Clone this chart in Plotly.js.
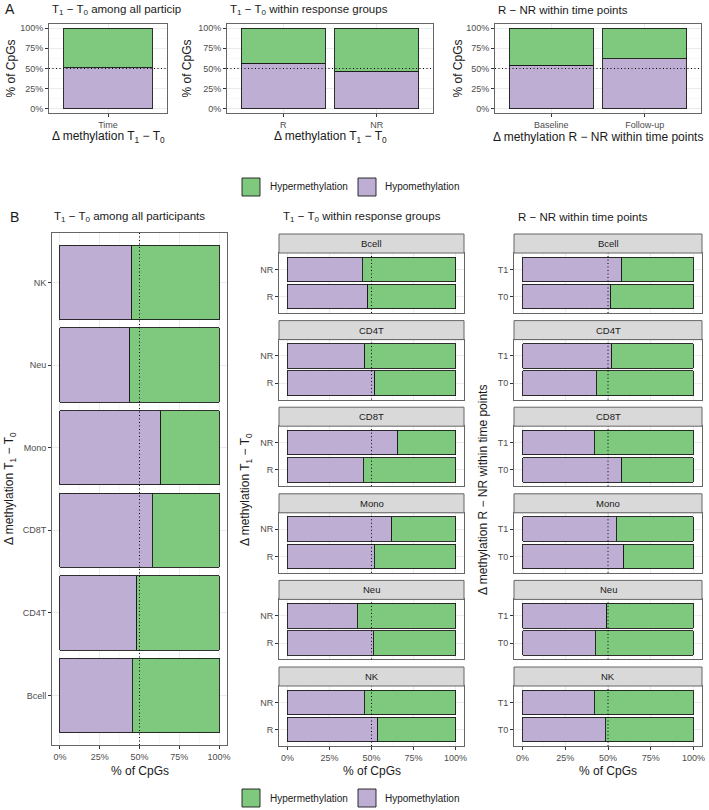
<!DOCTYPE html>
<html>
<head>
<meta charset="utf-8">
<script src="https://cdn.plot.ly/plotly-3.0.1.min.js"></script>
<style>html,body{margin:0;padding:0;background:#fff;}#chart{width:709px;height:810px;}</style>
</head>
<body>
<div id="chart"></div>
<script>
// ---------- DATA (percent of CpGs) ----------
const seriesNames = ['Hypermethylation', 'Hypomethylation'];

// Panel A
const aAllCats = ['Time'];
const aAllHypo = [51];
const aAllHyper = [49];

const aRespCats = ['R', 'NR'];
const aRespHypo = [56.5, 46.5];
const aRespHyper = [43.5, 53.5];

const aTimeCats = ['Baseline', 'Follow-up'];
const aTimeHypo = [54, 62];
const aTimeHyper = [46, 38];

// Panel B
const cellTypes = ['Bcell', 'CD4T', 'CD8T', 'Mono', 'Neu', 'NK'];
const bAllHypo = [45.5, 48.3, 58, 63.5, 44, 45];
const bAllHyper = [54.5, 51.7, 42, 36.5, 56, 55];

const respGroups = ['R', 'NR'];
const bRespHypoR = [47.9, 52, 45, 51.5, 50.9, 53.8];
const bRespHyperR = [52.1, 48, 55, 48.5, 49.1, 46.2];
const bRespHypoNR = [44.4, 46, 65.7, 62.1, 41.4, 45.6];
const bRespHyperNR = [55.6, 54, 34.3, 37.9, 58.6, 54.4];

const timePoints = ['T0', 'T1'];
const bTimeHypoT0 = [51.7, 43, 58, 59.3, 42.4, 48.3];
const bTimeHyperT0 = [48.3, 57, 42, 40.7, 57.6, 51.7];
const bTimeHypoT1 = [58, 52.3, 41.9, 54.7, 49.4, 41.9];
const bTimeHyperT1 = [42, 47.7, 58.1, 45.3, 50.6, 58.1];

const pctTicks = [0, 25, 50, 75, 100];
const pctLabels = ['0%', '25%', '50%', '75%', '100%'];

// ---------- STYLE ----------
const W = 709, H = 810;
const fx = p => p / W;
const fy = p => 1 - p / H;
const GREEN = '#7FC97F', PURPLE = '#BEAED4';
const FONT = 'Liberation Sans, Arial, sans-serif';
const TXT = '#1a1a1a';
const DOT = {color: '#000', width: 1, dash: '1px,2.5px'};

const base = {
  showline: true, mirror: true, linecolor: '#666', linewidth: 1,
  ticks: 'outside', ticklen: 3, tickcolor: '#333', tickwidth: 1,
  tickfont: {size: 9, color: '#4D4D4D', family: FONT},
  zeroline: false, showgrid: true, gridcolor: '#EBEBEB', gridwidth: 1,
  fixedrange: true, automargin: false
};
function pctAxis(domain, anchor, showLabels) {
  return Object.assign({}, base, {
    domain, anchor, range: [-5, 105], tickvals: pctTicks,
    ticktext: pctLabels, showticklabels: showLabels,
    ticks: showLabels ? 'outside' : '',
    minor: {tickvals: [12.5, 37.5, 62.5, 87.5], showgrid: true, gridcolor: '#F3F3F3', gridwidth: 0.6, ticks: ''}
  });
}
function catAxis(domain, anchor, cats) {
  return Object.assign({}, base, {
    domain, anchor, type: 'category', categoryorder: 'array',
    categoryarray: cats, range: [-0.6, cats.length - 0.4]
  });
}

const traces = [];
const layout = {
  width: W, height: H, margin: {l: 0, r: 0, t: 0, b: 0},
  paper_bgcolor: '#fff', plot_bgcolor: '#fff',
  barmode: 'stack', showlegend: false, bargap: 0,
  font: {family: FONT, color: TXT},
  shapes: [], annotations: []
};

function barPair(ax, cats, hypo, hyper, horiz) {
  const xs = ax === 1 ? 'x' : 'x' + ax, ys = ax === 1 ? 'y' : 'y' + ax;
  [[hypo, PURPLE, seriesNames[1]], [hyper, GREEN, seriesNames[0]]].forEach(([vals, col, nm]) => {
    traces.push({
      type: 'bar', name: nm, orientation: horiz ? 'h' : 'v',
      x: horiz ? vals : cats, y: horiz ? cats : vals,
      xaxis: xs, yaxis: ys, width: 0.9,
      marker: {color: col, line: {color: '#1a1a1a', width: 0.9}},
      hoverinfo: 'skip', showlegend: false
    });
  });
}
function key(n, s) { return n === 1 ? s + 'axis' : s + 'axis' + n; }
function ref(n, s) { return n === 1 ? s : s + n; }

function ann(text, x, y, opts) {
  layout.annotations.push(Object.assign({
    text, x: fx(x), y: fy(y), xref: 'paper', yref: 'paper', showarrow: false,
    xanchor: 'left', yanchor: 'middle', font: {size: 12, color: TXT, family: FONT}
  }, opts || {}));
}

// ---------- PANEL A ----------
const aPanels = [
  {n: 1, x0: 49, x1: 167, cats: aAllCats, hypo: aAllHypo, hyper: aAllHyper,
   title: 'T<sub>1</sub> − T<sub>0</sub> among all particip', xt: 'Δ methylation T<sub>1</sub> − T<sub>0</sub>', yx: 10},
  {n: 2, x0: 227, x1: 433, cats: aRespCats, hypo: aRespHypo, hyper: aRespHyper,
   title: 'T<sub>1</sub> − T<sub>0</sub> within response groups', xt: 'Δ methylation T<sub>1</sub> − T<sub>0</sub>', yx: 186},
  {n: 3, x0: 495, x1: 701, cats: aTimeCats, hypo: aTimeHypo, hyper: aTimeHyper,
   title: 'R − NR within time points', xt: 'Δ methylation R − NR within time points', yx: 457}
];
const aTop = 24, aBot = 113;
aPanels.forEach(p => {
  layout[key(p.n, 'x')] = catAxis([fx(p.x0), fx(p.x1)], ref(p.n, 'y'), p.cats);
  layout[key(p.n, 'y')] = pctAxis([fy(aBot), fy(aTop)], ref(p.n, 'x'), true);
  barPair(p.n, p.cats, p.hypo, p.hyper, false);
  layout.shapes.push({type: 'line', xref: ref(p.n, 'x') + ' domain', yref: ref(p.n, 'y'),
    x0: 0, x1: 1, y0: 50, y1: 50, line: DOT});
  ann(p.title, p.x0 + 1, 10, {font: {size: 11.5, family: FONT, color: TXT}});
  ann(p.xt, (p.x0 + p.x1) / 2, 137, {xanchor: 'center', font: {size: 12, family: FONT, color: TXT}});
  ann('% of CpGs', p.yx, (aTop + aBot) / 2, {xanchor: 'center', textangle: -90, font: {size: 12, family: FONT, color: TXT}});
});
ann('A', 3, 9, {font: {size: 14, family: FONT, color: TXT}});

// ---------- LEGENDS ----------
function legend(yc) {
  const items = [[GREEN, seriesNames[0], 242, 268], [PURPLE, seriesNames[1], 358, 383]];
  items.forEach(([col, nm, bx, tx]) => {
    layout.shapes.push({type: 'rect', xref: 'paper', yref: 'paper',
      x0: fx(bx), x1: fx(bx + 18), y0: fy(yc + 9), y1: fy(yc - 9),
      fillcolor: col, line: {color: '#1a1a1a', width: 0.9}});
    ann(nm, tx, yc, {font: {size: 10, family: FONT, color: TXT}});
  });
}
legend(187);
legend(798);

// ---------- PANEL B ----------
ann('B', 8, 217, {font: {size: 14, family: FONT, color: TXT}});
const bTop = 233, bBot = 745;
// B1
layout.xaxis4 = pctAxis([fx(52), fx(227)], 'y4', true);
layout.yaxis4 = catAxis([fy(bBot), fy(bTop)], 'x4', cellTypes);
barPair(4, cellTypes, bAllHypo, bAllHyper, true);
layout.shapes.push({type: 'line', xref: 'x4', yref: 'y4 domain', x0: 50, x1: 50, y0: 0, y1: 1, line: DOT});
ann('T<sub>1</sub> − T<sub>0</sub> among all participants', 52, 217, {font: {size: 11.5, family: FONT, color: TXT}});
ann('% of CpGs', 139.5, 771, {xanchor: 'center'});
ann('Δ methylation T<sub>1</sub> − T<sub>0</sub>', 10, 489, {xanchor: 'center', textangle: -90});

// Facets
const stripTops = [234, 320.6, 407.2, 493.8, 580.4, 667];
const facetCols = [
  {start: 5, x0: 279, x1: 464, cats: respGroups,
   lo: [bRespHypoR, bRespHyperR], hi: [bRespHypoNR, bRespHyperNR],
   title: 'T<sub>1</sub> − T<sub>0</sub> within response groups', yt: 'Δ methylation T<sub>1</sub> − T<sub>0</sub>', ytx: 246},
  {start: 11, x0: 514, x1: 702, cats: timePoints,
   lo: [bTimeHypoT0, bTimeHyperT0], hi: [bTimeHypoT1, bTimeHyperT1],
   title: 'R − NR within time points', yt: 'Δ methylation R − NR within time points', ytx: 483}
];
facetCols.forEach(c => {
  ann(c.title, c.x0 + 2, 217, {font: {size: 11.5, family: FONT, color: TXT}});
  ann('% of CpGs', (c.x0 + c.x1) / 2, 771, {xanchor: 'center'});
  ann(c.yt, c.ytx, 490, {xanchor: 'center', textangle: -90});
  cellTypes.forEach((ct, i) => {
    const n = c.start + i;
    const st = stripTops[i], bt = st + 19, bb = st + 79;
    const last = i === cellTypes.length - 1;
    layout[key(n, 'x')] = pctAxis([fx(c.x0), fx(c.x1)], ref(n, 'y'), last);
    layout[key(n, 'y')] = catAxis([fy(bb), fy(bt)], ref(n, 'x'), c.cats);
    const hypo = c.cats.map((_, k) => (k === 0 ? c.lo : c.hi)[0][i]);
    const hyper = c.cats.map((_, k) => (k === 0 ? c.lo : c.hi)[1][i]);
    barPair(n, c.cats, hypo, hyper, true);
    layout.shapes.push({type: 'line', xref: ref(n, 'x'), yref: ref(n, 'y') + ' domain',
      x0: 50, x1: 50, y0: 0, y1: 1, line: DOT});
    layout.shapes.push({type: 'rect', xref: 'paper', yref: 'paper',
      x0: fx(c.x0), x1: fx(c.x1), y0: fy(bt), y1: fy(st),
      fillcolor: '#D9D9D9', line: {color: '#666', width: 1}});
    ann(ct, (c.x0 + c.x1) / 2, st + 9.5, {xanchor: 'center', font: {size: 9.5, family: FONT, color: '#1A1A1A'}});
  });
});

Plotly.newPlot('chart', traces, layout, {staticPlot: true, displayModeBar: false});
</script>
</body>
</html>
